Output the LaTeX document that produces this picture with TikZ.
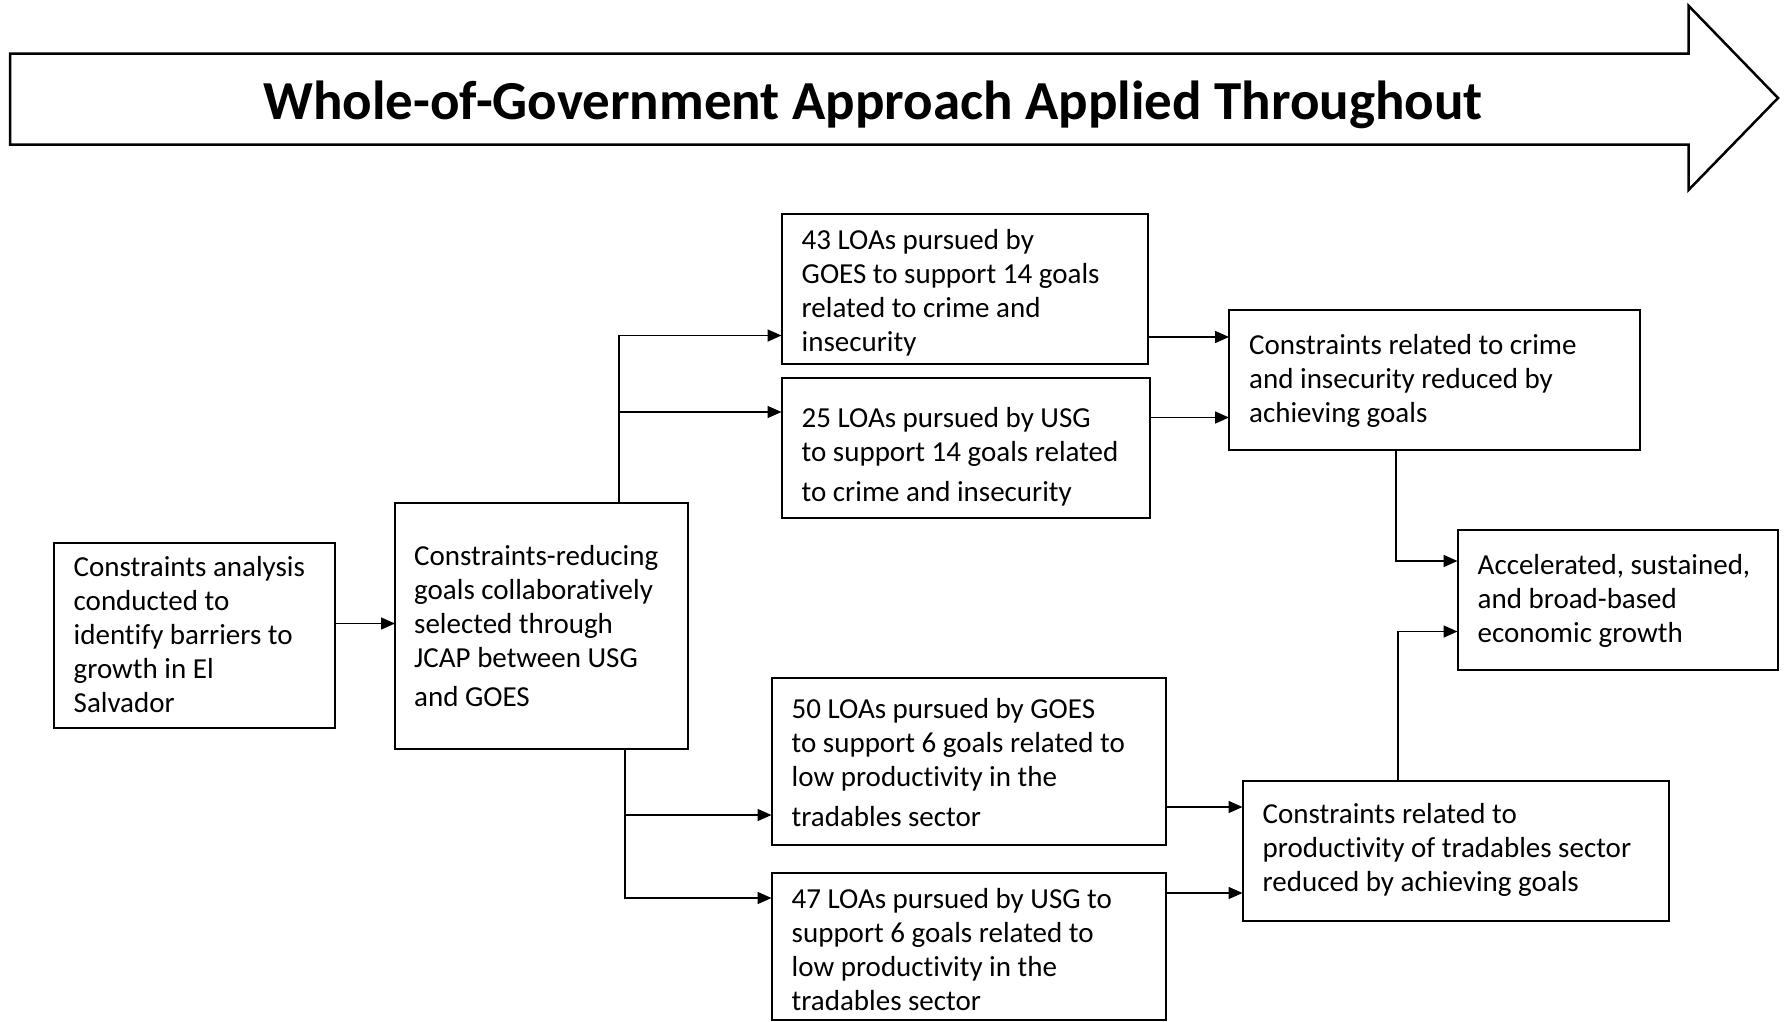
\documentclass[tikz,border=0pt]{standalone}
\usepackage{fontspec}
\setmainfont[Ligatures=NoCommon]{Carlito}
\usetikzlibrary{arrows.meta,calc}
\tikzset{
  box/.style={draw=black, line width=2pt, rectangle, inner sep=0pt, outer sep=0pt},
  txt/.style={anchor=north west, align=left, inner sep=0pt, font=\fontsize{29}{34}\selectfont},
  arr/.style={draw=black, line width=1.6pt, -{Triangle[length=14pt,width=12pt]}},
  bigarrow/.style={draw=black, line width=2.5pt, fill=white, line join=miter}
}
\newcommand{\tstrut}{\rule{0pt}{22pt}}
\begin{document}
\begin{tikzpicture}[x=1pt,y=-1pt]
\useasboundingbox (0,0) rectangle (1784,1021);
% big arrow
\draw[bigarrow] (10,53.5) -- (1688.5,53.5) -- (1688.5,5.7) -- (1778,98) -- (1688.5,190) -- (1688.5,144.5) -- (10,144.5) -- cycle;
\node[anchor=base, inner sep=0pt, font=\fontsize{55}{60}\selectfont\bfseries] (title) at (873,119.5) {Whole-of-Government Approach Applied Throughout};

% boxes
\node[box, minimum width=281pt, minimum height=185pt] (b1) at (194,635.5) {};
\node[box, minimum width=293pt, minimum height=246pt] (b2) at (541.5,626) {};
\node[box, minimum width=366.5pt, minimum height=150pt] (b3) at (964.75,289) {};
\node[box, minimum width=368.5pt, minimum height=140pt] (b4) at (965.75,448) {};
\node[box, minimum width=410.5pt, minimum height=140pt] (b5) at (1434.25,379.5) {};
\node[box, minimum width=320.5pt, minimum height=140pt] (b6) at (1617.75,600) {};
\node[box, minimum width=394.5pt, minimum height=167pt] (b7) at (968.75,761.5) {};
\node[box, minimum width=394.5pt, minimum height=146.5pt] (b8) at (968.75,946.25) {};
\node[box, minimum width=426.5pt, minimum height=140pt] (b9) at (1455.75,850.5) {};

% texts (top = first baseline - 22)
\node[txt] (t1) at ($(b1.north west)+(20,11)$) {\tstrut Constraints analysis\\conducted to\\identify barriers to\\growth in El\\Salvador};
\node[txt] (t2) at ($(b2.north west)+(19,40.5)$) {\tstrut Constraints-reducing\\goals collaboratively\\selected through\\JCAP between USG\\[5pt]and GOES};
\node[txt] (t3) at ($(b3.north west)+(20,13)$) {\tstrut 43 LOAs pursued by\\GOES to support 14 goals\\related to crime and\\insecurity};
\node[txt] (t4) at ($(b4.north west)+(20,27)$) {\tstrut 25 LOAs pursued by USG\\to support 14 goals related\\[6pt]to crime and insecurity};
\node[txt] (t5) at ($(b5.north west)+(20,23)$) {\tstrut Constraints related to crime\\and insecurity reduced by\\achieving goals};
\node[txt] (t6) at ($(b6.north west)+(20,22)$) {\tstrut Accelerated, sustained,\\and broad-based\\economic growth};
\node[txt] (t7) at ($(b7.north west)+(20,18)$) {\tstrut 50 LOAs pursued by GOES\\to support 6 goals related to\\low productivity in the\\[6pt]tradables sector};
\node[txt] (t8) at ($(b8.north west)+(20,13)$) {\tstrut 47 LOAs pursued by USG to\\support 6 goals related to\\low productivity in the\\tradables sector};
\node[txt] (t9) at ($(b9.north west)+(20,21)$) {\tstrut Constraints related to\\productivity of tradables sector\\reduced by achieving goals};

% connectors
\draw[arr] (b1.east |- 0,623.5) -- (b2.west |- 0,623.5);
\draw[arr] (b2.north -| 619,0) |- (b3.west |- 0,335.5);
\draw[arr] (b2.north -| 619,0) |- (b4.west |- 0,412);
\draw[arr] (b2.south -| 625,0) |- (b7.west |- 0,815);
\draw[arr] (b2.south -| 625,0) |- (b8.west |- 0,898);
\draw[arr] (b3.east |- 0,337) -- (b5.west |- 0,337);
\draw[arr] (b4.east |- 0,417.5) -- (b5.west |- 0,417.5);
\draw[arr] (b7.east |- 0,807) -- (b9.west |- 0,807);
\draw[arr] (b8.east |- 0,893) -- (b9.west |- 0,893);
\draw[arr] (b5.south -| 1396,0) |- (b6.west |- 0,561);
\draw[arr] (b9.north -| 1398,0) |- (b6.west |- 0,631.5);
\end{tikzpicture}
\end{document}
